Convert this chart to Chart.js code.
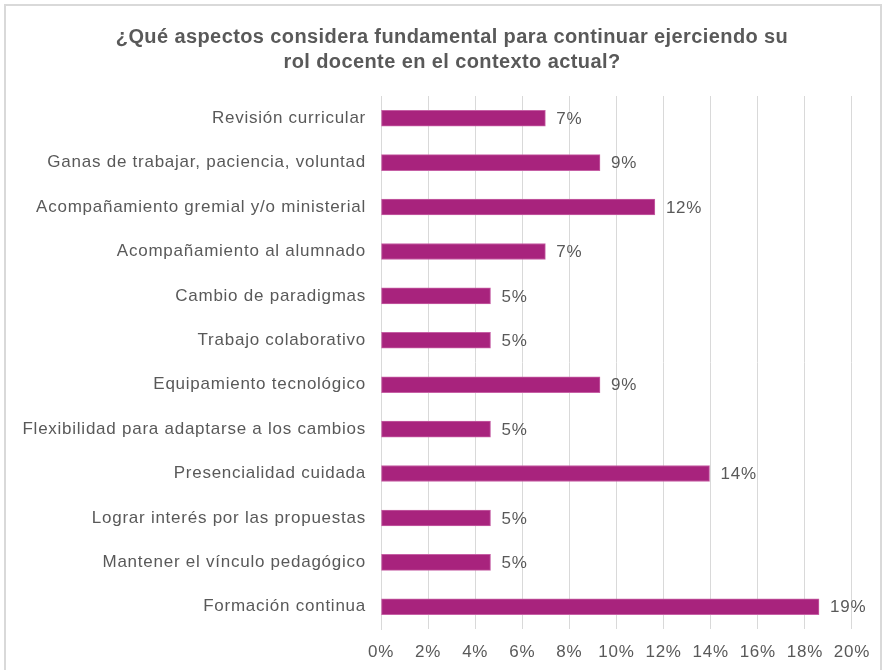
<!DOCTYPE html>
<html>
<head>
<meta charset="utf-8">
<script src="https://cdn.jsdelivr.net/npm/chart.js@4"></script>
<style>
    body { margin: 0; background: #fff; }
    #frame { position: absolute; left: 4px; top: 4px; width: 874px; height: 700px; border: 2px solid #d9d9d9; }
    #chart { position: absolute; left: 0; top: 0; }
</style>
</head>
<body>
<div id="frame"></div>
<canvas id="chart" width="882" height="670"></canvas>
<script>
const titleLines = ['¿Qué aspectos considera fundamental para continuar ejerciendo su', 'rol docente en el contexto actual?'];
const categories = [
    'Revisión curricular',
    'Ganas de trabajar, paciencia, voluntad',
    'Acompañamiento gremial y/o ministerial',
    'Acompañamiento al alumnado',
    'Cambio de paradigmas',
    'Trabajo colaborativo',
    'Equipamiento tecnológico',
    'Flexibilidad para adaptarse a los cambios',
    'Presencialidad cuidada',
    'Lograr interés por las propuestas',
    'Mantener el vínculo pedagógico',
    'Formación continua'
];
const percents = [6.98, 9.30, 11.63, 6.98, 4.65, 4.65, 9.30, 4.65, 13.95, 4.65, 4.65, 18.60];
const xTicks = [0, 2, 4, 6, 8, 10, 12, 14, 16, 18, 20];

var textColor = '#595959';
var fontFamily = '"Liberation Sans", Arial, sans-serif';

// a little extra letter spacing like the original rendering
const spacing = {
    id: 'spacing',
    beforeDraw: function (chart) {
        chart.ctx.letterSpacing = '0.75px';
    }
};

// Title drawn by hand so it can be centred on the frame
const titlePlugin = {
    id: 'titleText',
    afterDraw: function (chart) {
        var ctx = chart.ctx;
        ctx.save();
        ctx.letterSpacing = '0.4px';
        ctx.fillStyle = textColor;
        ctx.font = 'bold 20px ' + fontFamily;
        ctx.textAlign = 'center';
        ctx.textBaseline = 'middle';
        titleLines.forEach(function (line, i) {
            ctx.fillText(line, 452, 37 + i * 25);
        });
        ctx.restore();
    }
};

// value labels at the end of each bar
const valueLabels = {
    id: 'valueLabels',
    afterDatasetsDraw: function (chart) {
        var ctx = chart.ctx;
        var meta = chart.getDatasetMeta(0);
        ctx.save();
        ctx.letterSpacing = '0.75px';
        ctx.fillStyle = textColor;
        ctx.font = '17px ' + fontFamily;
        ctx.textAlign = 'left';
        ctx.textBaseline = 'middle';
        meta.data.forEach(function (bar, i) {
            ctx.fillText(Math.round(percents[i]) + '%', bar.x + 11, bar.y + 1);
        });
        ctx.restore();
    }
};

const data = {
    labels: categories,
    datasets: [{
        data: percents,
        backgroundColor: '#a8237d',
        borderColor: '#c660a5',
        borderWidth: 1,
        borderSkipped: false,
        barThickness: 16
    }]
};

const config = {
    type: 'bar',
    data: data,
    options: {
        indexAxis: 'y',
        responsive: false,
        animation: false,
        layout: { padding: { top: 96, right: 29, left: 0, bottom: 0 } },
        plugins: {
            legend: { display: false },
            title: { display: false },
            tooltip: { enabled: false }
        },
        scales: {
            x: {
                min: 0,
                max: 20,
                afterBuildTicks: function (axis) {
                    axis.ticks = xTicks.map(function (v) { return { value: v }; });
                },
                afterFit: function (axis) { axis.height = 41; },
                grid: { color: '#d9d9d9', drawTicks: false },
                border: { display: false },
                ticks: {
                    padding: 13,
                    color: textColor,
                    font: { size: 17, family: fontFamily },
                    callback: function (v) { return v + '%'; }
                }
            },
            y: {
                afterFit: function (axis) { axis.width = 381; },
                grid: { display: false, drawTicks: false },
                border: { display: true, color: '#d9d9d9' },
                ticks: {
                    padding: 15,
                    color: textColor,
                    font: { size: 17, family: fontFamily }
                }
            }
        }
    },
    plugins: [spacing, titlePlugin, valueLabels]
};

var myChart = new Chart(document.getElementById('chart'), config);
</script>
</body>
</html>
